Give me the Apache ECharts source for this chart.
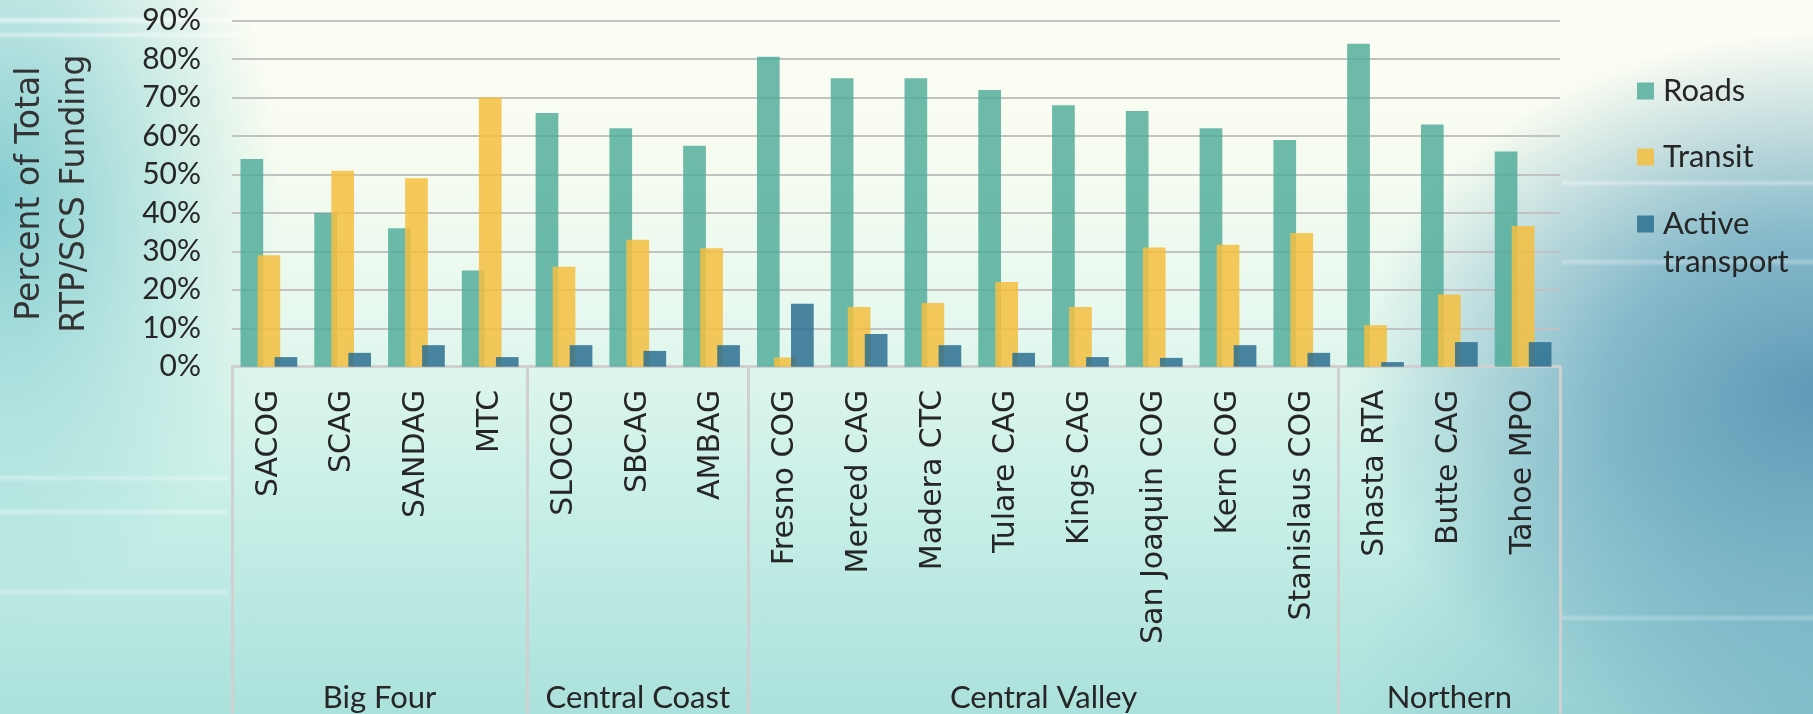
<!DOCTYPE html>
<html>
<head>
<meta charset="utf-8">
<script src="https://cdn.jsdelivr.net/npm/echarts@6/dist/echarts.min.js"></script>
<style>
html, body { margin:0; padding:0; width:1813px; height:714px; overflow:hidden; }
body {
  background:
    linear-gradient(to bottom, transparent 16px, rgba(255,255,255,0.55) 20px, transparent 25px, transparent 31px, rgba(255,255,255,0.45) 35px, transparent 39px) 0 0 / 240px 60px no-repeat,
    linear-gradient(to bottom, transparent 474px, rgba(255,255,255,0.3) 478px, transparent 482px, transparent 508px, rgba(255,255,255,0.35) 512px, transparent 516px, transparent 588px, rgba(255,255,255,0.3) 592px, transparent 596px) 0 0 / 228px 714px no-repeat,
    linear-gradient(to bottom, transparent 179px, rgba(255,255,255,0.35) 183px, transparent 187px, transparent 258px, rgba(255,255,255,0.3) 262px, transparent 266px, transparent 614px, rgba(255,255,255,0.25) 618px, transparent 622px) 1562px 0 / 251px 714px no-repeat,
    radial-gradient(ellipse 460px 360px at 100% 55%, rgba(88,150,180,0.95) 0%, rgba(110,170,193,0.8) 45%, rgba(140,200,205,0) 100%),
    radial-gradient(ellipse 460px 380px at 100% 100%, rgba(125,186,200,0.85) 0%, rgba(135,195,205,0.55) 50%, rgba(150,205,210,0) 100%),
    radial-gradient(ellipse 280px 420px at 0% 28%, rgba(128,202,208,0.95) 0%, rgba(150,215,215,0.6) 50%, rgba(180,230,228,0) 100%),
    linear-gradient(to bottom, #fdfdf5 0%, #f8fcf0 20%, #e6f8ef 45%, #c8efe7 70%, #abe1dc 100%);
}
#chart { width:1813px; height:714px; }
</style>
</head>
<body>
<div id="chart"></div>
<script>
const categories = ['SACOG','SCAG','SANDAG','MTC','SLOCOG','SBCAG','AMBAG','Fresno COG','Merced CAG','Madera CTC','Tulare CAG','Kings CAG','San Joaquin COG','Kern COG','Stanislaus COG','Shasta RTA','Butte CAG','Tahoe MPO'];
const groups = ['Big Four','Central Coast','Central Valley','Northern'];
const groupSizes = [4, 3, 8, 3];
const roads   = [54, 40, 36, 25, 66, 62, 57.5, 80.6, 75, 75, 72, 68, 66.5, 62, 59, 84, 63, 56];
const transit = [29, 51, 49, 70, 26, 33, 30.8, 2.4, 15.5, 16.6, 22, 15.5, 31, 31.7, 34.8, 10.8, 18.8, 36.6];
const active  = [2.5, 3.6, 5.6, 2.5, 5.6, 4.1, 5.6, 16.4, 8.5, 5.6, 3.6, 2.5, 2.3, 5.6, 3.6, 1.2, 6.4, 6.4];
const yTicks = [0,10,20,30,40,50,60,70,80,90];

const boundaries = [0];
groupSizes.forEach(s => boundaries.push(boundaries[boundaries.length-1] + s));
const groupCenters = {};
groups.forEach((g, i) => { groupCenters[boundaries[i] + boundaries[i+1]] = g; });

const chart = echarts.init(document.getElementById('chart'), null, {renderer:'canvas'});
const lineGray = '#d0d0d0';
const legendBase = {
  orient: 'vertical', left: 1637, padding: 0, itemWidth: 17, itemHeight: 17,
  icon: 'rect', selectedMode: false,
  textStyle: { fontFamily: 'Lato', fontSize: 31, color: '#262626', lineHeight: 38, padding: [0, 0, 0, 4] }
};
chart.setOption({
  animation: false,
  backgroundColor: 'transparent',
  grid: { left: 228, right: 253, top: 20.7, bottom: 347.3, containLabel: false },
  legend: [
    Object.assign({}, legendBase, { top: 72, data: ['Roads'] }),
    Object.assign({}, legendBase, { top: 138, data: ['Transit'] }),
    Object.assign({}, legendBase, { top: 167, data: ['Active transport'],
      formatter: () => '\nActive\ntransport' })
  ],
  xAxis: [{
    type: 'category', data: categories,
    axisLine: { show: true, lineStyle: { color: lineGray, width: 3 } },
    axisTick: { show: true, length: 347, interval: (i) => boundaries.indexOf(i) >= 0,
      lineStyle: { color: lineGray, width: 3 } },
    axisLabel: { rotate: 90, margin: 23, fontFamily: 'DejaVu Sans', fontSize: 30, color: '#262626', interval: 0 }
  }, {
    type: 'value', min: 0, max: categories.length * 2, interval: 1, position: 'bottom',
    axisLine: { show: false }, axisTick: { show: false }, splitLine: { show: false },
    axisLabel: { margin: 316, fontFamily: 'Lato', fontSize: 31, color: '#262626',
      formatter: (v) => groupCenters[v] || '' }
  }],
  yAxis: {
    type: 'value', min: 0, max: 90, interval: 10,
    name: 'Percent of Total\nRTP/SCS Funding', nameLocation: 'middle', nameRotate: 90, nameGap: 134,
    nameTextStyle: { fontFamily: 'DejaVu Sans', fontSize: 33, color: '#333', lineHeight: 45 },
    axisLine: { show: false }, axisTick: { show: false },
    axisLabel: { margin: 31, fontFamily: 'Lato', fontSize: 30, color: '#262626', formatter: '{value}%' },
    splitLine: { lineStyle: { color: '#c2c2c2', width: 2 } }
  },
  series: [
    { name: 'Roads', type: 'bar', data: roads, barWidth: 22.7, barGap: '-25%',
      itemStyle: { color: 'rgba(78,171,152,0.82)' } },
    { name: 'Transit', type: 'bar', data: transit, barWidth: 22.7, barGap: '-25%',
      itemStyle: { color: 'rgba(244,190,62,0.85)' } },
    { name: 'Active transport', type: 'bar', data: active, barWidth: 22.7, barGap: '-25%',
      itemStyle: { color: 'rgba(45,112,145,0.85)' } }
  ]
});
</script>
</body>
</html>
